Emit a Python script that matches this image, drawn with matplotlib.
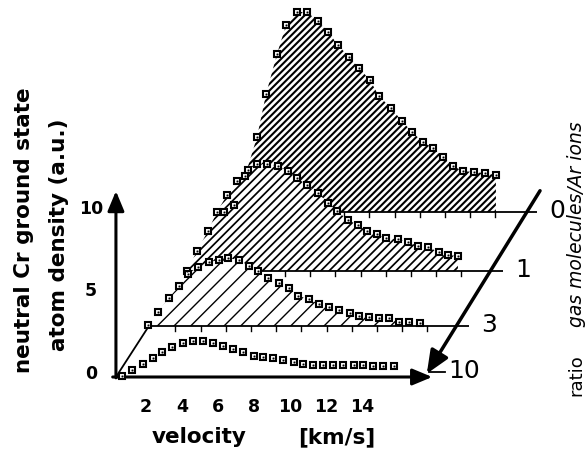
import matplotlib
matplotlib.use("Agg")
import matplotlib.pyplot as plt

# ratio gas molecules / Ar ions for each plane, back to front
RATIOS = ["0", "1", "3", "10"]

# velocity [km/s] and neutral Cr ground state density [a.u.] per ratio
VEL_0 = [0.72, 1.28, 1.89, 2.56, 3.06, 3.67, 4.17, 4.78, 5.33, 5.94, 6.5, 7.06, 7.67, 8.22,
         8.83, 9.33, 10.0, 10.61, 11.17, 11.78, 12.33, 12.89, 13.44, 14.0, 14.61, 15.22, 15.83]
DENS_0 = [0.0, 0.42, 2.18, 4.55, 7.15, 9.58, 11.33, 12.12, 12.12, 11.58, 10.91, 10.12, 9.39, 8.73,
          8.0, 7.03, 6.3, 5.52, 4.85, 4.24, 3.88, 3.33, 2.79, 2.48, 2.42, 2.36, 2.24]

VEL_1 = [0.56, 1.11, 1.72, 2.22, 2.78, 3.33, 3.94, 4.44, 5.0, 5.61, 6.17, 6.67, 7.22, 7.83,
         8.39, 8.89, 9.5, 10.06, 10.56, 11.11, 11.61, 12.28, 12.83, 13.39, 13.94, 14.56, 15.06, 15.61]
DENS_1 = [0.0, 1.21, 2.42, 3.58, 4.61, 5.45, 6.12, 6.48, 6.48, 6.36, 6.06, 5.64, 5.21, 4.73,
          4.12, 3.64, 3.09, 2.79, 2.42, 2.24, 2.0, 1.94, 1.76, 1.52, 1.45, 1.15, 0.97, 0.91]

VEL_3 = [0.28, 0.83, 1.44, 2.0, 2.5, 3.06, 3.67, 4.22, 4.72, 5.33, 5.89, 6.39, 6.94, 7.56,
         8.11, 8.61, 9.22, 9.78, 10.33, 10.89, 11.5, 12.0, 12.56, 13.11, 13.67, 14.22, 14.78, 15.39]
DENS_3 = [0.06, 0.85, 1.70, 2.42, 3.15, 3.58, 3.88, 4.0, 4.12, 4.0, 3.64, 3.33, 2.91, 2.61,
          2.30, 1.82, 1.64, 1.33, 1.15, 0.97, 0.79, 0.61, 0.55, 0.48, 0.48, 0.24, 0.24, 0.18]

VEL_10 = [0.67, 1.22, 1.83, 2.39, 2.89, 3.44, 4.06, 4.61, 5.17, 5.72, 6.28, 6.83, 7.39, 8.0,
          8.5, 9.06, 9.61, 10.22, 10.72, 11.28, 11.83, 12.39, 12.94, 13.56, 14.06, 14.61, 15.17, 15.78]
DENS_10 = [0.06, 0.42, 0.79, 1.15, 1.52, 1.82, 2.06, 2.18, 2.18, 2.06, 1.88, 1.70, 1.52, 1.27,
           1.21, 1.15, 1.03, 0.91, 0.79, 0.73, 0.73, 0.73, 0.73, 0.73, 0.73, 0.67, 0.67, 0.67]

X_TICKS = [2, 4, 6, 8, 10, 12, 14]
Y_TICKS = [0, 5, 10]

# layout of the pseudo-3D stack: shift of each plane (velocity, density units)
SHIFT = {"0": (5.61, 10.0), "1": (3.72, 6.42), "3": (1.83, 3.09), "10": (0.0, 0.0)}
HATCH = {"0": ("/////", 1.5), "1": ("////", 1.25), "3": ("//", 1.0)}
CORNER_V = 0.33
BASE_END = 18.1
DEPTH_V = 17.6
BACK_TICKS = [1.8, 3.2, 4.6, 6.0, 7.4, 8.8, 10.2, 11.6, 13.0, 14.4, 15.8]

DATA = {"0": (VEL_0, DENS_0), "1": (VEL_1, DENS_1), "3": (VEL_3, DENS_3), "10": (VEL_10, DENS_10)}

plt.rcParams["hatch.color"] = "black"

fig = plt.figure(figsize=(5.85, 4.52), dpi=100)
ax = fig.add_axes([0, 0, 1, 1])
ax.set_xlim(-110 / 18, 475 / 18)
ax.set_ylim(-74 / 16.5, 378 / 16.5)
ax.axis("off")


def shifted(r, vs, ds):
    dv, dd = SHIFT[r]
    return [v + dv for v in vs], [d + dd for d in ds]


# back planes: hatched area, baseline and small ticks
z = 1
for r in ["0", "1", "3"]:
    vel, dens = DATA[r]
    pattern, hlw = HATCH[r]
    px, py = shifted(r, [CORNER_V] + vel + [vel[-1]], [0.0] + dens + [0.0])
    with plt.rc_context({"hatch.linewidth": hlw}):
        (poly,) = ax.fill(px, py, facecolor="white", edgecolor="black", hatch=pattern,
                          linewidth=0, zorder=z)
    if hasattr(poly, "set_hatch_linewidth"):
        poly.set_hatch_linewidth(hlw)
    bx, by = shifted(r, [CORNER_V, BASE_END], [0, 0])
    ax.plot(bx, by, color="black", lw=1.3, zorder=z + 0.1, solid_capstyle="butt")
    for t in BACK_TICKS:
        tx, ty = shifted(r, [t, t], [0, -0.3])
        ax.plot(tx, ty, color="black", lw=1.0, zorder=z + 0.1)
    lx, ly = shifted(r, [18.8], [0.15])
    ax.text(lx[0], ly[0], r, fontsize=18, ha="left", va="center", zorder=10)
    z += 1

# floor edge from front corner to the ratio-3 plane
fx, fy = shifted("3", [CORNER_V], [0.0])
ax.plot([CORNER_V, fx[0]], [0, fy[0]], color="black", lw=1.3, zorder=z)

# front axes with arrows
arrow = dict(arrowstyle="-|>,head_length=0.6,head_width=0.25", mutation_scale=20,
             color="black", lw=2.2, shrinkA=0, shrinkB=0)
ax.annotate("", xy=(CORNER_V, 11.27), xytext=(CORNER_V, -0.05), arrowprops=arrow, zorder=z)
ax.annotate("", xy=(17.9, 0), xytext=(0.15, 0), arrowprops=arrow, zorder=z)
ax.plot([17.7, 18.6], [0.3, 0.3], color="black", lw=1.3, zorder=z)
ax.text(18.8, 0.45, "10", fontsize=18, ha="left", va="center", zorder=10)

# markers on top of everything
for r in RATIOS:
    vel, dens = DATA[r]
    mx, my = shifted(r, vel, dens)
    ax.plot(mx, my, ls="none", marker="s", ms=4.4, mfc="white", mec="black", mew=1.5, zorder=8)
    ax.plot(mx, my, ls="none", marker="s", ms=1.0, mfc="black", mec="black", mew=0.3, zorder=8.1)

# depth arrow through the planes
s0v, s0d = SHIFT["0"]
s1v, s1d = SHIFT["1"]
start = (DEPTH_V + s0v + 0.36 * (s0v - s1v), s0d + 0.36 * (s0d - s1d))
ax.annotate("", xy=(DEPTH_V, 0.2), xytext=start,
            arrowprops=dict(arrowstyle="-|>,head_length=0.7,head_width=0.3", mutation_scale=20,
                            color="black", lw=2.5, shrinkA=0, shrinkB=0), zorder=9)

# tick labels
for t in X_TICKS:
    ax.text(t, -1.76, str(t), fontsize=12.5, fontweight="bold", ha="center", va="center")
for t in Y_TICKS:
    ax.text(-1.06, t + 0.25, str(t), fontsize=12.5, fontweight="bold", ha="center", va="center")

# axis titles
ax.text(4.94, -3.58, "velocity", fontsize=15.5, fontweight="bold", ha="center", va="center")
ax.text(12.6, -3.58, "[km/s]", fontsize=15.5, fontweight="bold", ha="center", va="center")
ax.text(-4.78, 8.97, "neutral Cr ground state", fontsize=15.5, fontweight="bold",
        rotation=90, ha="center", va="center")
ax.text(-2.83, 8.67, "atom density (a.u.)", fontsize=15.5, fontweight="bold",
        rotation=90, ha="center", va="center")
ax.text(25.9, 0.18, "ratio", fontsize=13, rotation=90, ha="center", va="center")
ax.text(25.9, 9.33, "gas molecules/Ar ions", fontsize=13.5, style="italic",
        rotation=90, ha="center", va="center")

fig.savefig("out.png", dpi=100)
